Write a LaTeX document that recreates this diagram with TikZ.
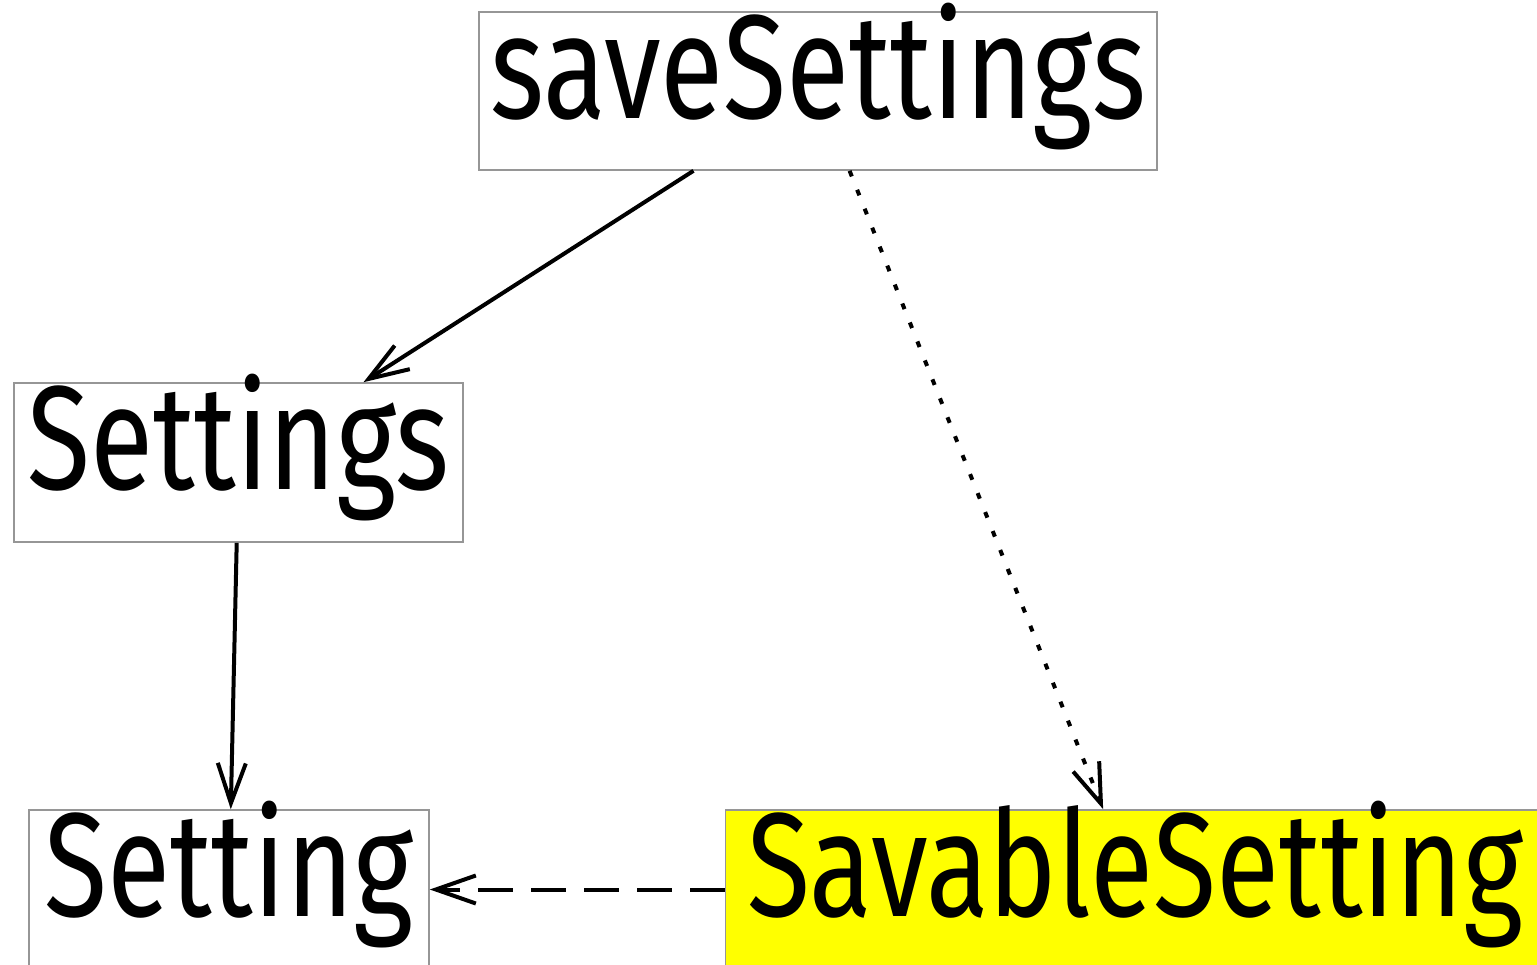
\documentclass[tikz,border=0pt]{standalone}
\usepackage{fontspec}
\setmainfont{Fira Sans}[FakeStretch=0.78]
\usetikzlibrary{arrows.meta}
\definecolor{hilite}{RGB}{255,255,0}
\definecolor{boxline}{RGB}{150,150,150}
\tikzset{
  box/.style={draw=boxline, line width=0.8pt, inner sep=0pt, anchor=center,
    text height=48pt, text depth=21pt, font=\fontsize{74}{80}\selectfont},
  conn/.style={line width=2pt, -{Straight Barb[length=20pt,width=14pt,line width=2pt]}},
}
\begin{document}
\begin{tikzpicture}[x=0.5pt,y=-0.5pt]
\useasboundingbox (0,0) rectangle (1537,964);
\node[box, minimum width=339pt, minimum height=79pt] (save) at (818,91) {saveSettings};
\node[box, minimum width=224.5pt, minimum height=79.5pt] (settings) at (238.5,462.5) {Settings};
\node[box, minimum width=200pt, minimum height=79.5pt] (setting) at (229,889.5) {Setting};
\node[box, fill=hilite, minimum width=409.5pt, minimum height=79.5pt] (savable) at (1135,889.5) {SavableSetting};
\draw[conn] (save) -- (settings);
\draw[conn, dash pattern=on 3pt off 7.2pt] (save) -- (savable);
\draw[conn] (settings) -- (setting);
\draw[conn, dash pattern=on 17.5pt off 9pt] (savable) -- (setting);
\end{tikzpicture}
\end{document}
